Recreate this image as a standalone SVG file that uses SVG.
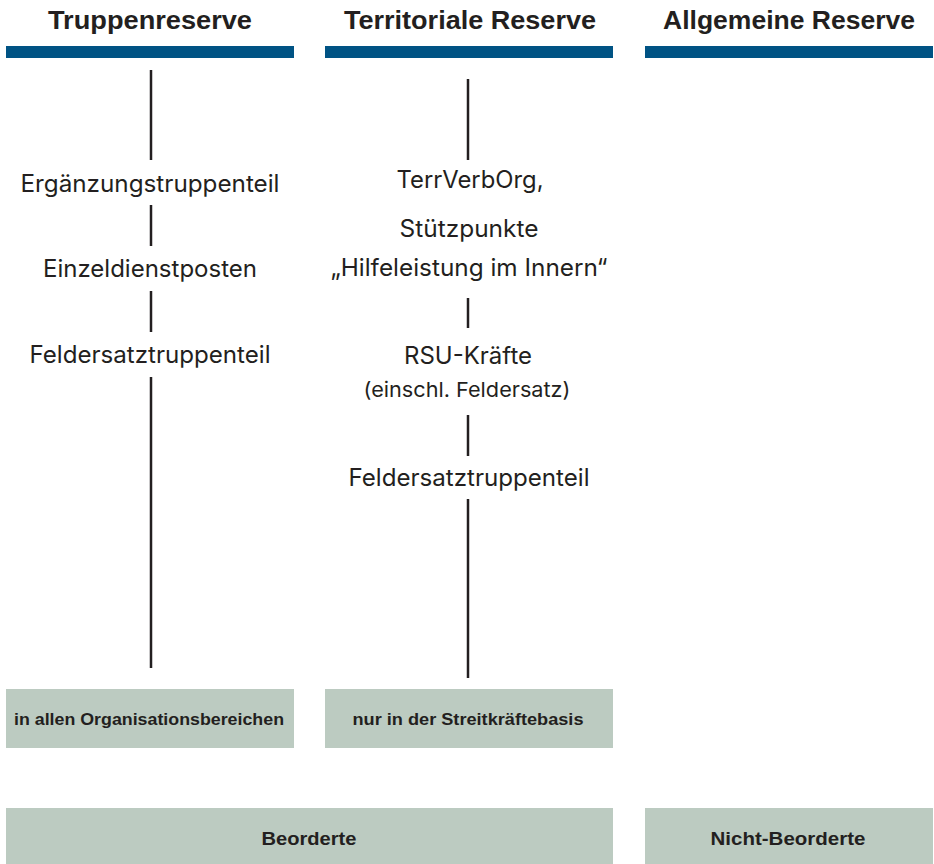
<svg xmlns="http://www.w3.org/2000/svg" width="934" height="864" viewBox="0 0 934 864">
<style>
.h{font-family:"Liberation Sans",Arial,sans-serif;font-weight:bold;font-size:26px;fill:#231f20;text-anchor:middle}
.t{font-family:Inter,"Liberation Sans",Arial,sans-serif;font-size:24px;fill:#231f20;text-anchor:middle}
.s{font-family:Inter,"Liberation Sans",Arial,sans-serif;font-size:20.5px;fill:#231f20;text-anchor:middle}
.b{font-family:"Liberation Sans",Arial,sans-serif;font-weight:bold;font-size:17px;fill:#231f20;text-anchor:middle}
.bb{font-family:"Liberation Sans",Arial,sans-serif;font-weight:bold;font-size:19px;fill:#231f20;text-anchor:middle}
.bar{fill:#005384}
.box{fill:#bccbc1}
.ln{stroke:#231f20;stroke-width:2.5;fill:none}
</style>
<rect width="934" height="864" fill="#ffffff"/>
<g id="col1-header"><text class="h" x="150" y="29" textLength="204" lengthAdjust="spacingAndGlyphs">Truppenreserve</text><rect class="bar" x="6" y="46" width="288" height="12"/></g>
<g id="col2-header"><text class="h" x="470" y="29" textLength="252" lengthAdjust="spacingAndGlyphs">Territoriale Reserve</text><rect class="bar" x="325" y="46" width="288" height="12"/></g>
<g id="col3-header"><text class="h" x="789" y="29" textLength="252" lengthAdjust="spacingAndGlyphs">Allgemeine Reserve</text><rect class="bar" x="645" y="46" width="288" height="12"/></g>
<g id="connectors">
<line class="ln" x1="151" y1="70" x2="151" y2="160"/>
<line class="ln" x1="151" y1="205" x2="151" y2="246"/>
<line class="ln" x1="151" y1="291" x2="151" y2="332"/>
<line class="ln" x1="151" y1="377" x2="151" y2="668"/>
<line class="ln" x1="468" y1="79" x2="468" y2="160"/>
<line class="ln" x1="468" y1="298" x2="468" y2="328"/>
<line class="ln" x1="468" y1="415" x2="468" y2="456"/>
<line class="ln" x1="468" y1="499" x2="468" y2="678"/>
</g>
<g id="n-ergaenzung"><text class="t" x="150" y="192" textLength="259" lengthAdjust="spacingAndGlyphs">Ergänzungstruppenteil</text></g>
<g id="n-einzel"><text class="t" x="150" y="277" textLength="214" lengthAdjust="spacingAndGlyphs">Einzeldienstposten</text></g>
<g id="n-feldersatz1"><text class="t" x="150" y="363" textLength="241" lengthAdjust="spacingAndGlyphs">Feldersatztruppenteil</text></g>
<g id="n-terrverborg"><text class="t" x="470" y="188" textLength="147" lengthAdjust="spacingAndGlyphs">TerrVerbOrg,</text><text class="t" x="469" y="237" textLength="139" lengthAdjust="spacingAndGlyphs">Stützpunkte</text><text class="t" x="469" y="276" textLength="277" lengthAdjust="spacingAndGlyphs">„Hilfeleistung im Innern“</text></g>
<g id="n-rsu"><text class="t" x="468" y="364" textLength="128" lengthAdjust="spacingAndGlyphs">RSU-Kräfte</text><text class="s" x="467" y="397" textLength="207" lengthAdjust="spacingAndGlyphs">(einschl. Feldersatz)</text></g>
<g id="n-feldersatz2"><text class="t" x="469" y="486" textLength="241" lengthAdjust="spacingAndGlyphs">Feldersatztruppenteil</text></g>
<g id="box-alle"><rect class="box" x="6" y="689" width="288" height="59"/><text class="b" x="149" y="725" textLength="270" lengthAdjust="spacingAndGlyphs">in allen Organisationsbereichen</text></g>
<g id="box-skb"><rect class="box" x="325" y="689" width="288" height="59"/><text class="b" x="468" y="725" textLength="231" lengthAdjust="spacingAndGlyphs">nur in der Streitkräftebasis</text></g>
<g id="box-beorderte"><rect class="box" x="6" y="808" width="607" height="56"/><text class="bb" x="309" y="845" textLength="95" lengthAdjust="spacingAndGlyphs">Beorderte</text></g>
<g id="box-nicht"><rect class="box" x="645" y="808" width="288" height="56"/><text class="bb" x="788" y="845" textLength="155" lengthAdjust="spacingAndGlyphs">Nicht-Beorderte</text></g>
</svg>
